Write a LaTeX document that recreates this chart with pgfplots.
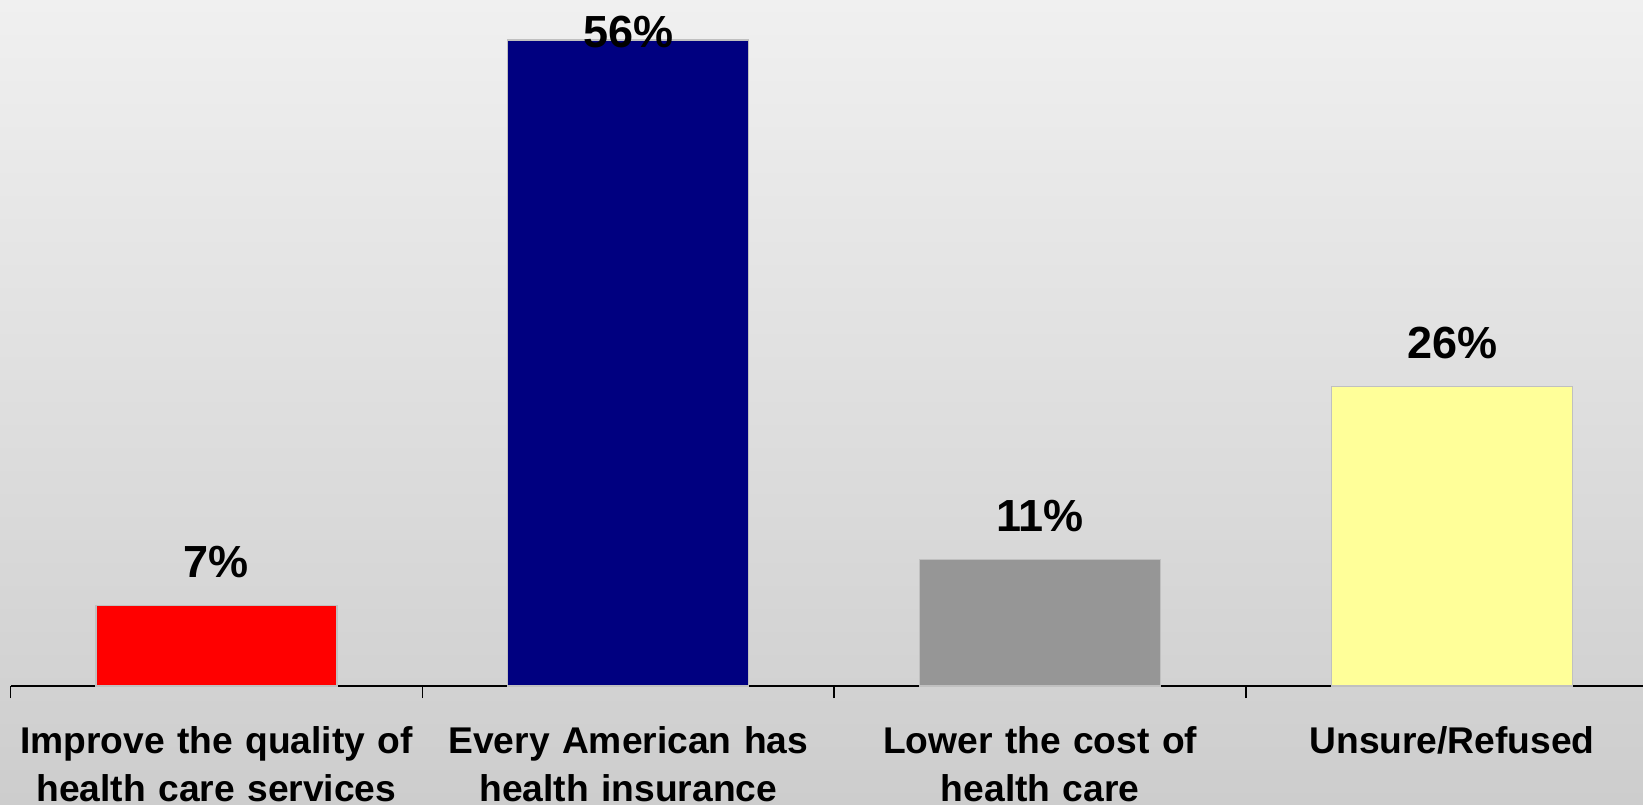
\documentclass[border=0pt]{standalone}
\usepackage{pgfplots}
\pgfplotsset{compat=1.18}
\usepackage{fontspec}
\setmainfont{Liberation Sans}
\definecolor{barred}{HTML}{FF0000}
\definecolor{barnavy}{HTML}{000080}
\definecolor{bargray}{HTML}{969696}
\definecolor{baryellow}{HTML}{FFFF99}
\definecolor{bgtop}{HTML}{F0F0F0}
\definecolor{bgbot}{HTML}{CDCDCD}
\definecolor{baredge}{HTML}{C0C0C0}
\begin{document}
\begin{tikzpicture}
\path[use as bounding box] (0,0) rectangle (821.5pt,402pt);
\clip (0,0) rectangle (821.5pt,402pt);
\shade[top color=bgtop, bottom color=bgbot] (0,0) rectangle (821.5pt,402pt);
\begin{axis}[
  at={(5.25pt,59pt)}, anchor=south west,
  scale only axis, width=823.75pt, height=334.5pt,
  xmin=-0.5, xmax=3.5, ymin=0, ymax=58,
  axis x line*=bottom, axis y line=none,
  axis line style={line width=0.8pt, black},
  xtick={0,1,2,3},
  xticklabels={{Improve the quality of\\health care services},{Every American has\\health insurance},{Lower the cost of\\health care},{Unsure/Refused}},
  major tick length=0pt,
  minor xtick={-0.5,0.5,1.5,2.5,3.5},
  minor tick length=6pt,
  xtick align=outside,
  minor x tick style={line width=0.8pt, black},
  xticklabel style={font=\bfseries\fontsize{18.6}{24}\selectfont, text width=220pt, align=center, anchor=north, yshift=-16.5pt},
  ybar, bar width=0.585,
  clip=false,
  /pgf/number format/assume math mode=true,
  nodes near coords={\pgfmathprintnumber{\pgfplotspointmeta}\%},
  every node near coord/.append style={font=\bfseries\fontsize{22.5}{27}\selectfont, anchor=base, yshift=14pt},
]
\addplot[bar shift=0pt, fill=barred, draw=baredge, line width=0.6pt] coordinates {(0,7)};
\addplot[bar shift=0pt, fill=barnavy, draw=baredge, line width=0.6pt,
  every node near coord/.append style={yshift=-17.5pt}] coordinates {(1,56)};
\addplot[bar shift=0pt, fill=bargray, draw=baredge, line width=0.6pt] coordinates {(2,11)};
\addplot[bar shift=0pt, fill=baryellow, draw=baredge, line width=0.6pt] coordinates {(3,26)};
\end{axis}
\end{tikzpicture}
\end{document}
